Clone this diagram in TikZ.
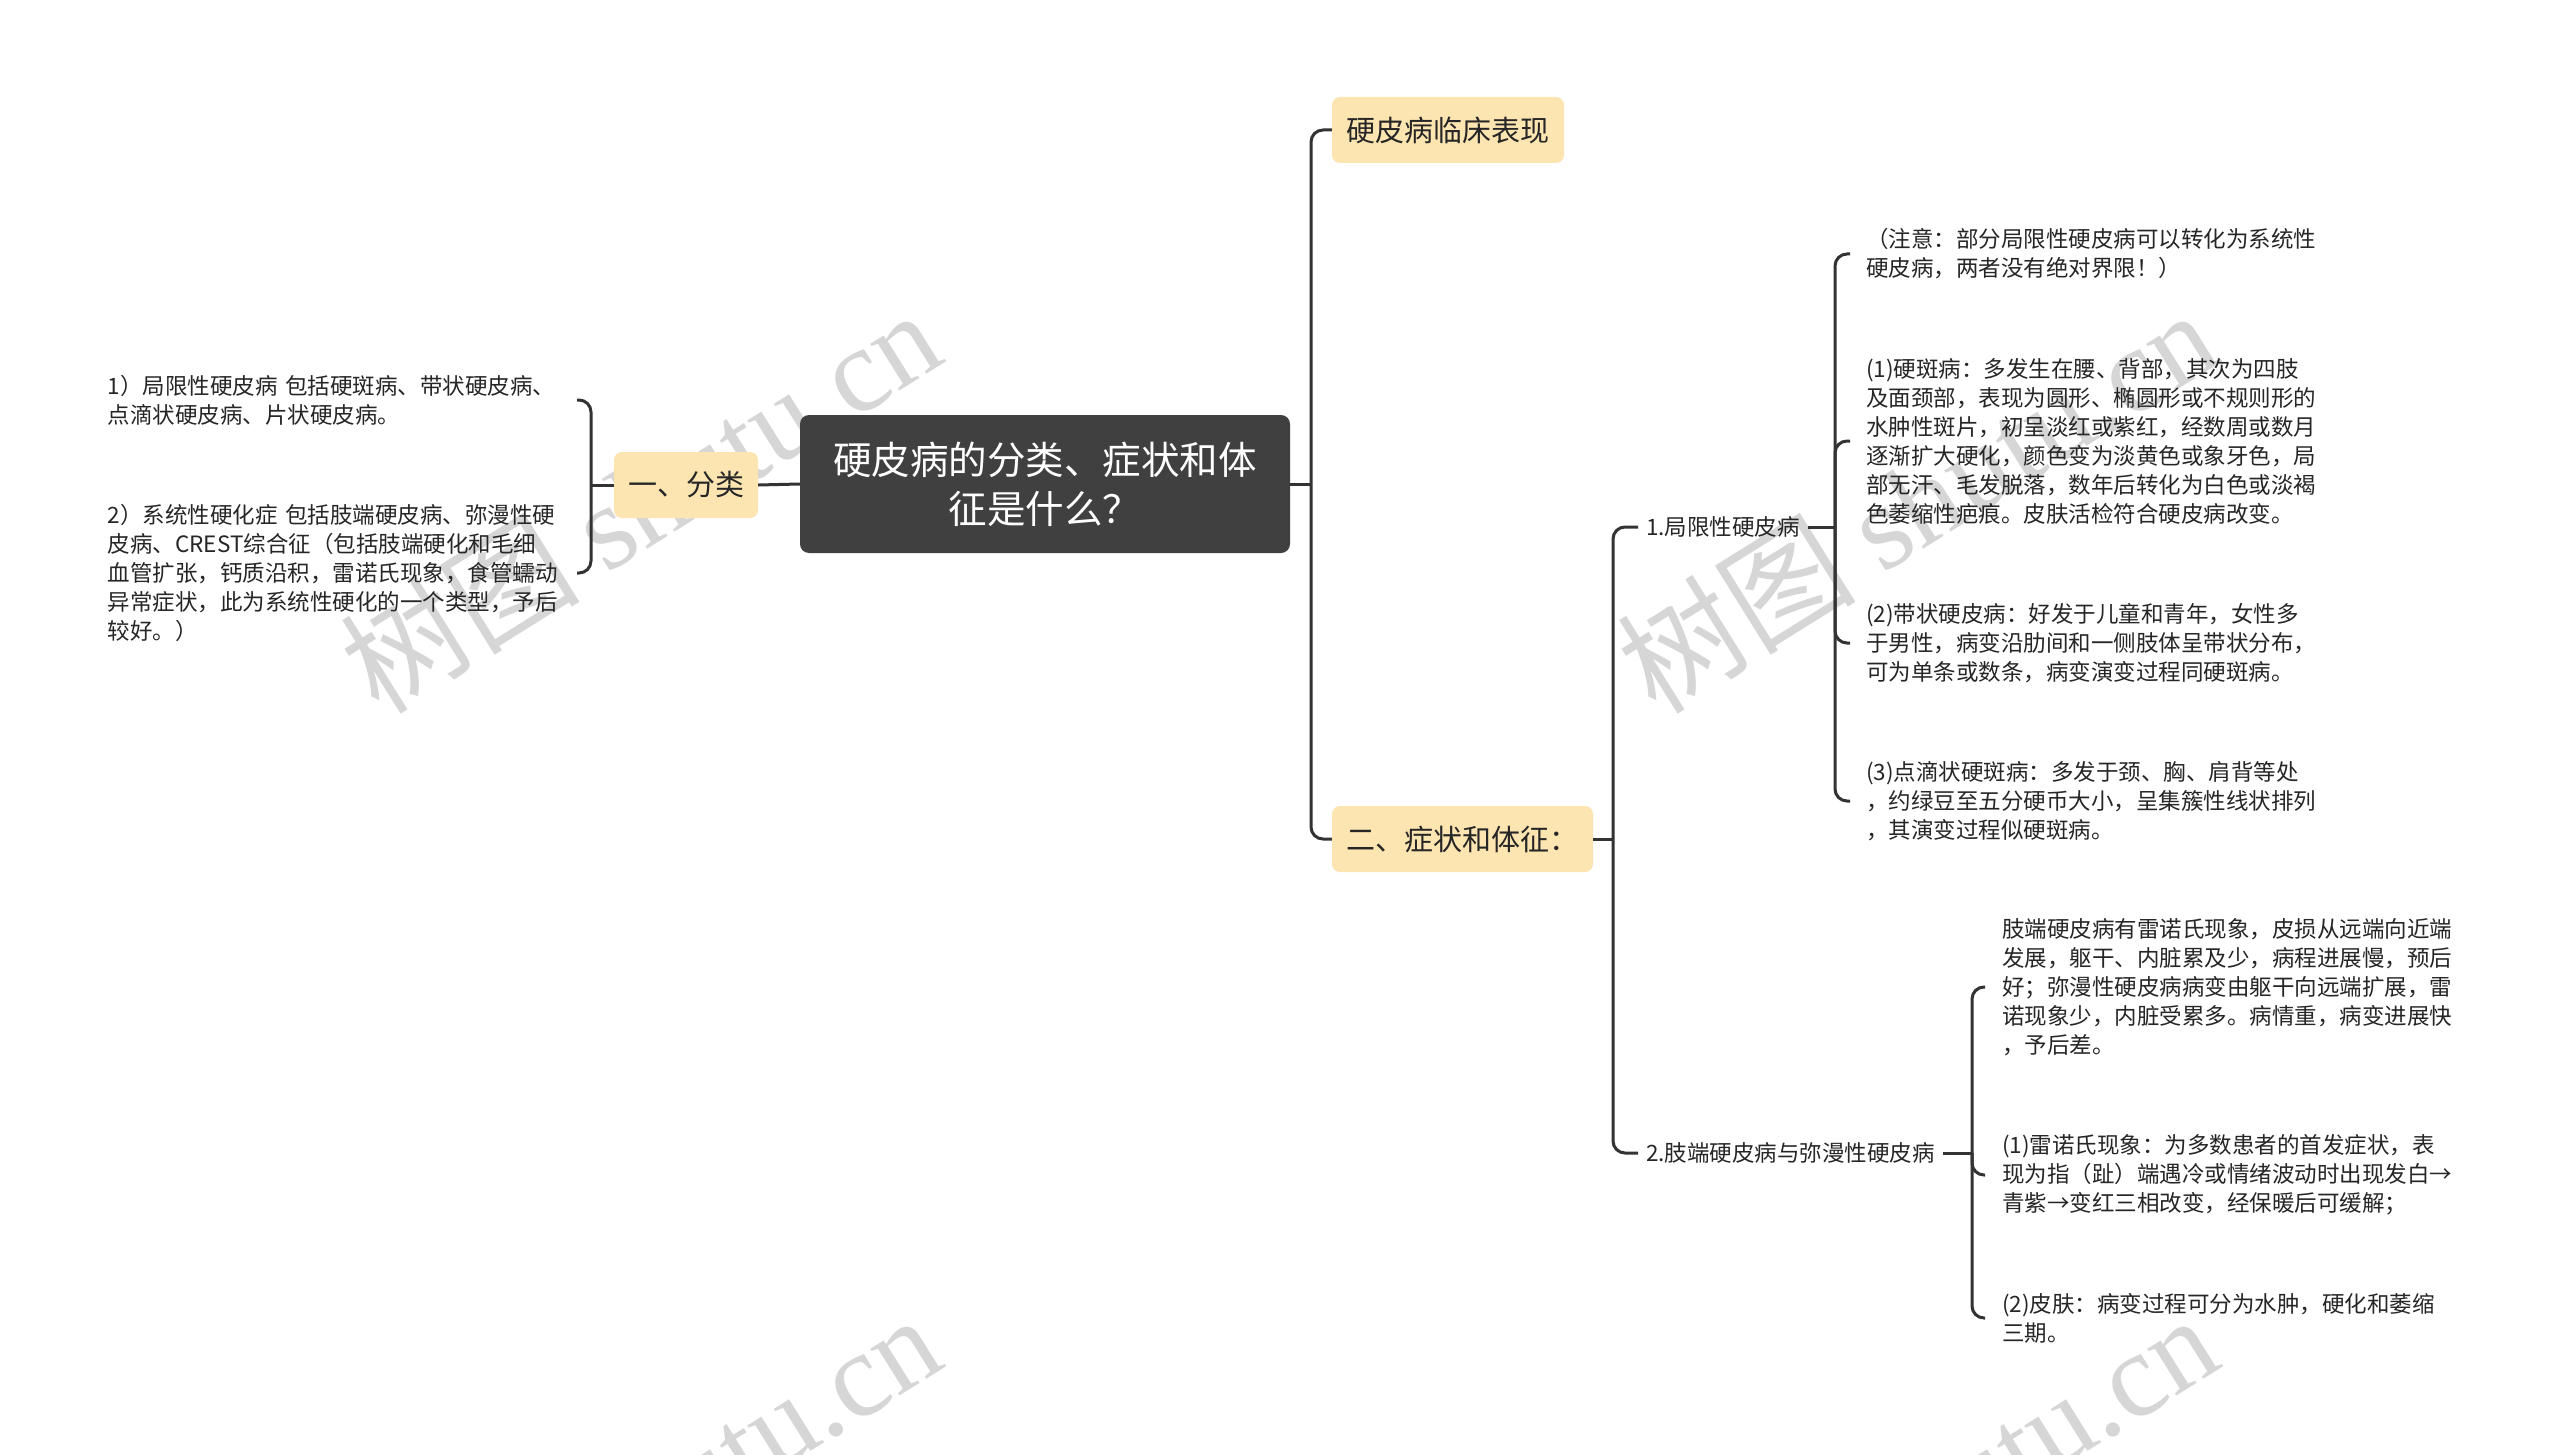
\documentclass[tikz,border=0pt]{standalone}
\usepackage{fontspec}
\setmainfont{Noto Sans CJK SC}
\newfontfamily\wmlatin{Liberation Serif}
\definecolor{linec}{HTML}{333333}
\definecolor{boxy}{HTML}{FCE5B1}
\definecolor{darkbox}{HTML}{404040}
\definecolor{txt}{HTML}{262626}
\definecolor{wm}{HTML}{D6D6D6}
\begin{document}
\begin{tikzpicture}[x=1pt,y=-1pt,
  conn/.style={draw=linec, line width=3pt, rounded corners=12pt},
  plain/.style={draw=linec, line width=3pt},
  topic/.style={fill=boxy, rounded corners=8pt, text=txt, font=\fontsize{29}{36}\selectfont, inner sep=0pt, minimum height=66pt},
  rootbox/.style={fill=darkbox, rounded corners=9pt, text=white, font=\fontsize{38.5}{49}\selectfont, align=center, inner sep=0pt, minimum width=490pt, minimum height=138pt},
  leafl/.style={text=txt, font=\fontsize{22.5}{29}\selectfont, align=left, text width=460pt, inner xsep=9pt, inner ysep=0pt, anchor=east},
  leafr/.style={text=txt, font=\fontsize{22.5}{29}\selectfont, align=left, text width=480pt, inner xsep=16pt, inner ysep=0pt, anchor=west},
  leafm/.style={text=txt, font=\fontsize{22.5}{29}\selectfont, align=left, text width=480pt, inner xsep=17pt, inner ysep=0pt, anchor=west},
  sublabel/.style={text=txt, font=\fontsize{22.5}{29}\selectfont, inner xsep=8pt, inner ysep=2pt, anchor=west},
  wmark/.style={text=wm, font=\fontsize{120}{125}\selectfont, rotate=32, inner sep=0pt}
]
\fill[white] (0,0) rectangle (2560,1455);
\useasboundingbox (0,0) rectangle (2560,1455);

% watermarks
\node[wmark] (w1) at (640,500) {树图 \wmlatin shutu.cn};
\node[wmark] (w2) at (1916,500) {树图 \wmlatin shutu.cn};
\node[wmark] (w3) at (640,1505) {树图 \wmlatin shutu.cn};
\node[wmark] (w4) at (1917,1505) {树图 \wmlatin shutu.cn};

% main nodes
\node[rootbox] (root) at (1045,484) {硬皮病的分类、症状和体\\征是什么？};
\node[topic, minimum width=144pt] (cls) at (686,485) {一、分类};
\node[topic, minimum width=232pt] (clin) at (1448,130) {硬皮病临床表现};
\node[topic, minimum width=261pt] (sym) at (1462.5,839) {二、症状和体征：};

% left leaves
\node[leafl] (t1) at (577,400) {1）局限性硬皮病 包括硬斑病、带状硬皮病、\\点滴状硬皮病、片状硬皮病。};
\node[leafl] (t2) at (577,573) {2）系统性硬化症 包括肢端硬皮病、弥漫性硬\\皮病、CREST综合征（包括肢端硬化和毛细\\血管扩张，钙质沿积，雷诺氏现象，食管蠕动\\异常症状，此为系统性硬化的一个类型，予后\\较好。）};

% sub labels
\node[sublabel] (l1) at (1638,527) {1.局限性硬皮病};
\node[sublabel] (l2) at (1638,1153) {2.肢端硬皮病与弥漫性硬皮病};

% right leaves
\node[leafr] (n0) at (1850,254) {（注意：部分局限性硬皮病可以转化为系统性\\硬皮病，两者没有绝对界限！）};
\node[leafr] (n1) at (1850,441) {(1)硬斑病：多发生在腰、背部，其次为四肢\\及面颈部，表现为圆形、椭圆形或不规则形的\\水肿性斑片，初呈淡红或紫红，经数周或数月\\逐渐扩大硬化，颜色变为淡黄色或象牙色，局\\部无汗、毛发脱落，数年后转化为白色或淡褐\\色萎缩性疤痕。皮肤活检符合硬皮病改变。};
\node[leafr] (n2) at (1850,643) {(2)带状硬皮病：好发于儿童和青年，女性多\\于男性，病变沿肋间和一侧肢体呈带状分布，\\可为单条或数条，病变演变过程同硬斑病。};
\node[leafr] (n3) at (1850,801) {(3)点滴状硬斑病：多发于颈、胸、肩背等处\\，约绿豆至五分硬币大小，呈集簇性线状排列\\，其演变过程似硬斑病。};
\node[leafm] (m0) at (1985,987) {肢端硬皮病有雷诺氏现象，皮损从远端向近端\\发展，躯干、内脏累及少，病程进展慢，预后\\好；弥漫性硬皮病病变由躯干向远端扩展，雷\\诺现象少，内脏受累多。病情重，病变进展快\\，予后差。};
\node[leafm] (m1) at (1985,1175) {(1)雷诺氏现象：为多数患者的首发症状，表\\现为指（趾）端遇冷或情绪波动时出现发白→\\青紫→变红三相改变，经保暖后可缓解；};
\node[leafm] (m2) at (1985,1318) {(2)皮肤：病变过程可分为水肿，硬化和萎缩\\三期。};

% junctions
\coordinate (jl) at (591,485);
\coordinate (jc) at (1311,484);
\coordinate (j2) at (1613,839);
\coordinate (j3) at (1835,527);
\coordinate (j4) at (1972,1153);

% connectors
\draw[plain] (root.west) -- (cls.east);
\draw[plain] (cls.west) -- (jl);
\draw[conn] (jl) |- (t1.east);
\draw[conn] (jl) |- (t2.east);

\draw[plain] (root.east) -- (jc);
\draw[conn] (jc) |- (clin.west);
\draw[conn] (jc) |- (sym.west);

\draw[plain] (sym.east) -- (j2);
\draw[conn] (j2) |- (l1.west);
\draw[conn] (j2) |- (l2.west);

\draw[plain] (l1.east) -- (j3);
\draw[conn] (j3) |- (n0.west);
\draw[conn] (j3) |- (n1.west);
\draw[conn] (j3) |- (n2.west);
\draw[conn] (j3) |- (n3.west);

\draw[plain] (l2.east) -- (j4);
\draw[conn] (j4) |- (m0.west);
\draw[conn] (j4) |- (m1.west);
\draw[conn] (j4) |- (m2.west);
\end{tikzpicture}
\end{document}
